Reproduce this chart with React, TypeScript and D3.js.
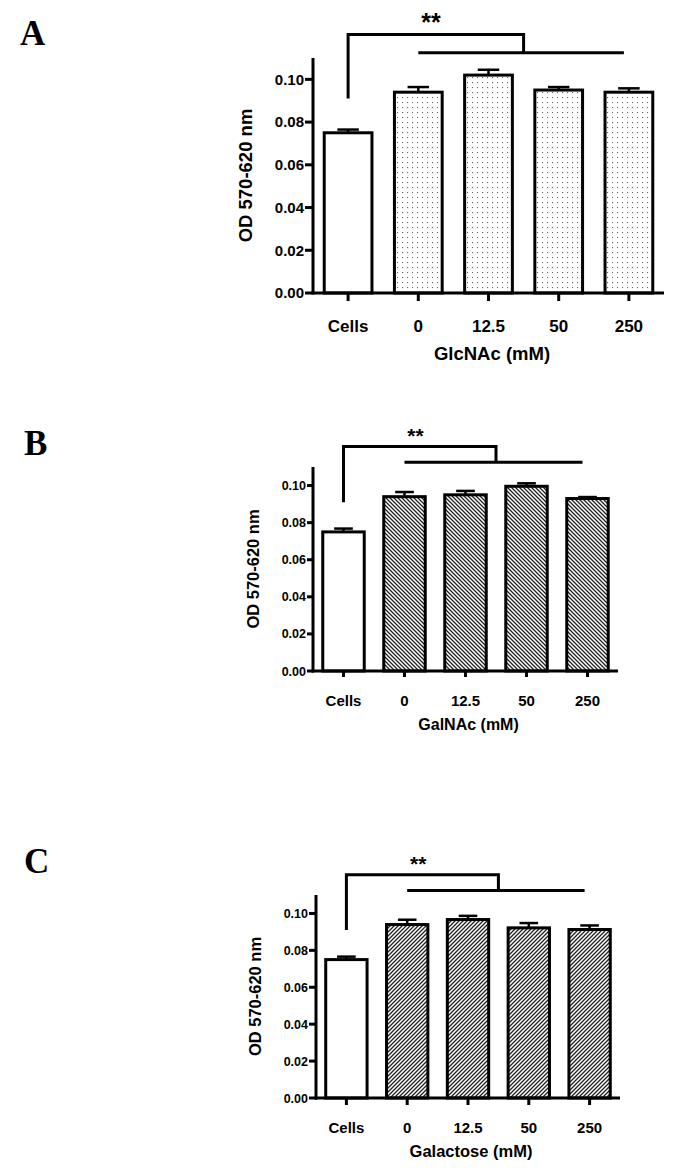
import React from "react";
import * as d3 from "d3";

const categories = ["Cells", "0", "12.5", "50", "250"];
const yTicks = [0, 0.02, 0.04, 0.06, 0.08, 0.1];

const glcnacMeans = [0.075, 0.094, 0.102, 0.095, 0.094];
const glcnacErr = [0.0015, 0.0024, 0.0025, 0.0014, 0.0018];
const galnacMeans = [0.075, 0.094, 0.095, 0.0996, 0.093];
const galnacErr = [0.0018, 0.0025, 0.0021, 0.0016, 0.0008];
const galactoseMeans = [0.075, 0.094, 0.0967, 0.0922, 0.0913];
const galactoseErr = [0.0016, 0.0026, 0.002, 0.0026, 0.0022];

const SANS = "'Liberation Sans', Arial, sans-serif";
const SERIF = "'Liberation Serif', 'Times New Roman', serif";

type PanelProps = {
  letter: string;
  letterX: number;
  letterY: number;
  means: number[];
  errs: number[];
  fill: string;
  xTitle: string;
  left: number;
  right: number;
  top: number;
  bottom: number;
  tickFs: number;
  catFs: number;
  titleFs: number;
  yTitleFs: number;
  yTitleOffset: number;
  tickLen: number;
  starFs: number;
};

function Panel(p: PanelProps) {
  const x = d3.scalePoint<string>().domain(categories).range([p.left, p.right]).padding(0.5);
  const y = d3.scaleLinear().domain([0, 0.11]).range([p.bottom, p.top]);
  const step = x.step();
  const bw = step * 0.68;
  const cap = bw * 0.45;
  const fmt = d3.format(".2f");

  // significance bracket
  const xCells = x("Cells")!;
  const x0 = x("0")!;
  const x250 = x("250")!;
  const xMid = (x("12.5")! + x("50")!) / 2;
  const yTop = y(0.121);
  const yLow = y(0.1125);
  const yStart = y(0.091);
  const starY = y(0.129);
  const catY = p.bottom + p.catFs * 2.3;

  return (
    <g>
      <text x={p.letterX} y={p.letterY} fontFamily={SERIF} fontWeight="bold" fontSize={35}>
        {p.letter}
      </text>

      {/* bars */}
      {categories.map((c, i) => (
        <g key={c}>
          <line x1={x(c)} x2={x(c)} y1={y(p.means[i])} y2={y(p.means[i] + p.errs[i])} stroke="#000" strokeWidth={2.5} />
          <line x1={x(c)! - cap / 2} x2={x(c)! + cap / 2} y1={y(p.means[i] + p.errs[i])} y2={y(p.means[i] + p.errs[i])} stroke="#000" strokeWidth={2.5} />
          <rect
            x={x(c)! - bw / 2}
            y={y(p.means[i])}
            width={bw}
            height={y(0) - y(p.means[i])}
            fill={i === 0 ? "#fff" : p.fill}
            stroke="#000"
            strokeWidth={3}
          />
        </g>
      ))}

      {/* y axis */}
      <line x1={p.left} x2={p.left} y1={p.top} y2={p.bottom + 1.5} stroke="#000" strokeWidth={3} />
      {yTicks.map((t) => (
        <g key={t}>
          <line x1={p.left - p.tickLen} x2={p.left} y1={y(t)} y2={y(t)} stroke="#000" strokeWidth={3} />
          <text
            x={p.left - p.tickLen - 1}
            y={y(t)}
            dy="0.36em"
            textAnchor="end"
            fontFamily={SANS}
            fontWeight="bold"
            fontSize={p.tickFs}
          >
            {fmt(t)}
          </text>
        </g>
      ))}
      <text
        transform={`translate(${p.left - p.yTitleOffset},${(p.top + p.bottom) / 2}) rotate(-90)`}
        textAnchor="middle"
        dy="0.36em"
        fontFamily={SANS}
        fontWeight="bold"
        fontSize={p.yTitleFs}
      >
        OD 570-620 nm
      </text>

      {/* x axis */}
      <line x1={p.left - 1.5} x2={p.right} y1={p.bottom} y2={p.bottom} stroke="#000" strokeWidth={3} />
      {categories.map((c) => (
        <g key={c}>
          <line x1={x(c)} x2={x(c)} y1={p.bottom} y2={p.bottom + p.tickLen} stroke="#000" strokeWidth={3} />
          <text
            x={x(c)}
            y={catY}
            textAnchor="middle"
            fontFamily={SANS}
            fontWeight="bold"
            fontSize={p.catFs}
          >
            {c}
          </text>
        </g>
      ))}
      <text
        x={(p.left + p.right) / 2 + step * 0.05}
        y={catY + p.titleFs * 1.5}
        textAnchor="middle"
        fontFamily={SANS}
        fontWeight="bold"
        fontSize={p.titleFs}
      >
        {p.xTitle}
      </text>

      {/* bracket */}
      <path
        d={`M${xCells},${yStart}V${yTop}H${xMid}V${yLow}`}
        fill="none"
        stroke="#000"
        strokeWidth={3}
      />
      <line x1={x0} x2={x250 - 5} y1={yLow} y2={yLow} stroke="#000" strokeWidth={3} />
      <text
        x={x0 + step * 0.18}
        y={starY}
        dy="0.55em"
        textAnchor="middle"
        fontFamily={SANS}
        fontWeight="bold"
        fontSize={p.starFs}
      >
        **
      </text>
    </g>
  );
}

export default function App() {
  return (
    <svg
      width={685}
      height={1171}
      style={{ position: "absolute", left: 0, top: 0, background: "#fff" }}
    >
      <defs>
        <pattern id="dots" width={5} height={5} patternUnits="userSpaceOnUse">
          <rect width={5} height={5} fill="#fff" />
          <rect x={2} y={2} width={1.1} height={1.1} fill="#666" />
        </pattern>
        <pattern id="back" width={4} height={4} patternUnits="userSpaceOnUse">
          <rect width={4} height={4} fill="#fff" />
          <path d="M0,0L4,4M-1,3L1,5M3,-1L5,1" stroke="#222" strokeWidth={1.3} />
        </pattern>
        <pattern id="fwd" width={4} height={4} patternUnits="userSpaceOnUse">
          <rect width={4} height={4} fill="#fff" />
          <path d="M0,4L4,0M-1,1L1,-1M3,5L5,3" stroke="#222" strokeWidth={1.3} />
        </pattern>
      </defs>
      <Panel
        letter="A"
        letterX={20}
        letterY={45}
        means={glcnacMeans}
        errs={glcnacErr}
        fill="url(#dots)"
        xTitle="GlcNAc (mM)"
        left={313}
        right={664}
        top={58}
        bottom={293}
        tickFs={15}
        catFs={17}
        titleFs={18.5}
        yTitleFs={18.5}
        yTitleOffset={68}
        tickLen={8}
        starFs={25}
      />
      <Panel
        letter="B"
        letterX={24}
        letterY={455}
        means={galnacMeans}
        errs={galnacErr}
        fill="url(#back)"
        xTitle="GalNAc (mM)"
        left={313}
        right={618}
        top={467}
        bottom={671}
        tickFs={12.5}
        catFs={15}
        titleFs={16}
        yTitleFs={16.5}
        yTitleOffset={60}
        tickLen={6}
        starFs={21}
      />
      <Panel
        letter="C"
        letterX={24}
        letterY={873}
        means={galactoseMeans}
        errs={galactoseErr}
        fill="url(#fwd)"
        xTitle="Galactose (mM)"
        left={316}
        right={620}
        top={895}
        bottom={1098}
        tickFs={12.5}
        catFs={15}
        titleFs={16.5}
        yTitleFs={16.5}
        yTitleOffset={61}
        tickLen={7}
        starFs={21}
      />
    </svg>
  );
}
